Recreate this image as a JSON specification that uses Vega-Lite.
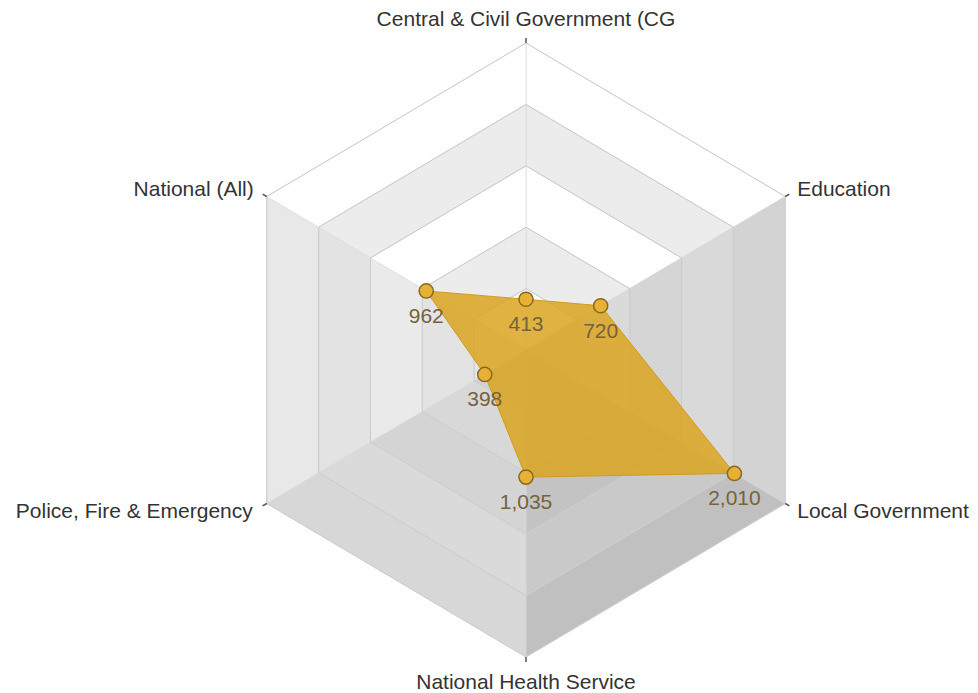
{
  "$schema": "https://vega.github.io/schema/vega-lite/v6.json",
  "width": 978,
  "height": 693,
  "padding": 0,
  "autosize": {"type": "none"},
  "background": "#ffffff",
  "config": {"view": {"stroke": null}, "text": {"font": "Liberation Sans"}},
  "datasets": {
    "sectors": [
      {"axis": "Central & Civil Government (CG", "i": 0, "v": 413},
      {"axis": "Education", "i": 1, "v": 720},
      {"axis": "Local Government", "i": 2, "v": 2010},
      {"axis": "National Health Service", "i": 3, "v": 1035},
      {"axis": "Police, Fire & Emergency", "i": 4, "v": 398},
      {"axis": "National (All)", "i": 5, "v": 962}
    ],
    "faces": [
      {"s": 0, "b": 0, "c": [0, 1, 2, 3]}, {"s": 0, "b": 1, "c": [0, 1, 2, 3]}, {"s": 0, "b": 2, "c": [0, 1, 2, 3]}, {"s": 0, "b": 3, "c": [0, 1, 2, 3]}, {"s": 0, "b": 4, "c": [0, 1, 2, 3]},
      {"s": 1, "b": 0, "c": [0, 1, 2, 3]}, {"s": 1, "b": 1, "c": [0, 1, 2, 3]}, {"s": 1, "b": 2, "c": [0, 1, 2, 3]}, {"s": 1, "b": 3, "c": [0, 1, 2, 3]}, {"s": 1, "b": 4, "c": [0, 1, 2, 3]},
      {"s": 2, "b": 0, "c": [0, 1, 2, 3]}, {"s": 2, "b": 1, "c": [0, 1, 2, 3]}, {"s": 2, "b": 2, "c": [0, 1, 2, 3]}, {"s": 2, "b": 3, "c": [0, 1, 2, 3]}, {"s": 2, "b": 4, "c": [0, 1, 2, 3]},
      {"s": 3, "b": 0, "c": [0, 1, 2, 3]}, {"s": 3, "b": 1, "c": [0, 1, 2, 3]}, {"s": 3, "b": 2, "c": [0, 1, 2, 3]}, {"s": 3, "b": 3, "c": [0, 1, 2, 3]}, {"s": 3, "b": 4, "c": [0, 1, 2, 3]},
      {"s": 4, "b": 0, "c": [0, 1, 2, 3]}, {"s": 4, "b": 1, "c": [0, 1, 2, 3]}, {"s": 4, "b": 2, "c": [0, 1, 2, 3]}, {"s": 4, "b": 3, "c": [0, 1, 2, 3]}, {"s": 4, "b": 4, "c": [0, 1, 2, 3]},
      {"s": 5, "b": 0, "c": [0, 1, 2, 3]}, {"s": 5, "b": 1, "c": [0, 1, 2, 3]}, {"s": 5, "b": 2, "c": [0, 1, 2, 3]}, {"s": 5, "b": 3, "c": [0, 1, 2, 3]}, {"s": 5, "b": 4, "c": [0, 1, 2, 3]}
    ],
    "rings": [
      {"ring": 500, "k": [0, 1, 2, 3, 4, 5]},
      {"ring": 1000, "k": [0, 1, 2, 3, 4, 5]},
      {"ring": 1500, "k": [0, 1, 2, 3, 4, 5]},
      {"ring": 2000, "k": [0, 1, 2, 3, 4, 5]},
      {"ring": 2500, "k": [0, 1, 2, 3, 4, 5]}
    ]
  },
  "layer": [
    {
      "data": {"name": "faces"},
      "transform": [
        {"flatten": ["c"]},
        {"calculate": "datum.s + '-' + datum.b", "as": "key"},
        {"calculate": "(datum.c == 1 || datum.c == 2 ? datum.b + 1 : datum.b) * 500", "as": "rr"},
        {"calculate": "PI / 2 - (datum.s + (datum.c >= 2 ? 1 : 0)) * PI / 3", "as": "ang"},
        {"calculate": "datum.rr * cos(datum.ang)", "as": "px"},
        {"calculate": "datum.rr * sin(datum.ang)", "as": "py"}
      ],
      "mark": {"type": "line", "interpolate": "linear-closed", "stroke": "#d6d6d6", "strokeWidth": 0.6},
      "encoding": {
        "x": {"field": "px", "type": "quantitative", "scale": {"domain": [-4393, 3775], "nice": false, "zero": false}, "axis": null},
        "y": {"field": "py", "type": "quantitative", "scale": {"domain": [-2793.2, 2850.2], "nice": false, "zero": false}, "axis": null},
        "detail": {"field": "key"},
        "order": {"field": "c", "type": "quantitative"},
        "fill": {
          "field": "key", "type": "nominal", "legend": null,
          "scale": {
            "domain": ["0-0","0-1","0-2","0-3","0-4","1-0","1-1","1-2","1-3","1-4","2-0","2-1","2-2","2-3","2-4","3-0","3-1","3-2","3-3","3-4","4-0","4-1","4-2","4-3","4-4","5-0","5-1","5-2","5-3","5-4"],
            "range": ["#fafafa","#ececec","#ffffff","#ececec","#ffffff",
                      "#d6d6d6","#dadada","#d5d5d5","#d9d9d9","#d3d3d3",
                      "#c6c6c6","#cacaca","#c3c3c3","#c9c9c9","#c0c0c0",
                      "#d2d2d2","#d8d8d8","#d4d4d4","#dadada","#d7d7d7",
                      "#e6e6e6","#e3e3e3","#eaeaea","#e3e3e3","#e8e8e8",
                      "#fafafa","#ececec","#ffffff","#ececec","#ffffff"]
          }
        }
      }
    },
    {
      "data": {"name": "rings"},
      "transform": [
        {"flatten": ["k"]},
        {"calculate": "PI / 2 - datum.k * PI / 3", "as": "ang"},
        {"calculate": "datum.ring * cos(datum.ang)", "as": "px"},
        {"calculate": "datum.ring * sin(datum.ang)", "as": "py"}
      ],
      "mark": {"type": "line", "interpolate": "linear-closed", "stroke": "#cbcbcb", "strokeWidth": 1},
      "encoding": {
        "x": {"field": "px", "type": "quantitative"},
        "y": {"field": "py", "type": "quantitative"},
        "detail": {"field": "ring"},
        "order": {"field": "k", "type": "quantitative"}
      }
    },
    {
      "data": {"name": "sectors"},
      "transform": [
        {"calculate": "PI / 2 - datum.i * PI / 3", "as": "ang"},
        {"calculate": "2500 * cos(datum.ang)", "as": "tx"},
        {"calculate": "2500 * sin(datum.ang)", "as": "ty"},
        {"calculate": "2540 * cos(datum.ang)", "as": "tx2"},
        {"calculate": "2540 * sin(datum.ang)", "as": "ty2"}
      ],
      "mark": {"type": "rule", "stroke": "#555555", "strokeWidth": 1.5},
      "encoding": {
        "x": {"field": "tx", "type": "quantitative"},
        "y": {"field": "ty", "type": "quantitative"},
        "x2": {"field": "tx2"},
        "y2": {"field": "ty2"}
      }
    },
    {
      "data": {"name": "sectors"},
      "transform": [
        {"calculate": "PI / 2 - datum.i * PI / 3", "as": "ang"},
        {"calculate": "datum.v * cos(datum.ang)", "as": "px"},
        {"calculate": "datum.v * sin(datum.ang)", "as": "py"}
      ],
      "layer": [
        {
          "mark": {"type": "line", "interpolate": "linear-closed", "fill": "#daa520", "fillOpacity": 0.85, "stroke": "#d19c1c", "strokeWidth": 1},
          "encoding": {
            "x": {"field": "px", "type": "quantitative"},
            "y": {"field": "py", "type": "quantitative"},
            "order": {"field": "i", "type": "quantitative"}
          }
        },
        {
          "mark": {"type": "point", "shape": "circle", "filled": true, "size": 200, "fill": "#e6b134", "stroke": "#8a6a1c", "strokeWidth": 1.5, "opacity": 1},
          "encoding": {
            "x": {"field": "px", "type": "quantitative"},
            "y": {"field": "py", "type": "quantitative"}
          }
        },
        {
          "mark": {"type": "text", "fontSize": 21, "color": "#74633d", "baseline": "middle", "align": "center", "dy": 26},
          "encoding": {
            "x": {"field": "px", "type": "quantitative"},
            "y": {"field": "py", "type": "quantitative"},
            "text": {"field": "v", "type": "quantitative", "format": ","}
          }
        }
      ]
    },
    {
      "data": {"name": "sectors"},
      "transform": [
        {"calculate": "PI / 2 - datum.i * PI / 3", "as": "ang"},
        {"calculate": "2500 * cos(datum.ang)", "as": "px"},
        {"calculate": "2500 * sin(datum.ang)", "as": "py"}
      ],
      "encoding": {
        "x": {"field": "px", "type": "quantitative"},
        "y": {"field": "py", "type": "quantitative"},
        "text": {"field": "axis"}
      },
      "layer": [
        {"transform": [{"filter": "datum.i == 0"}], "mark": {"type": "text", "fontSize": 21, "color": "#333333", "align": "center", "baseline": "middle", "dy": -23}},
        {"transform": [{"filter": "datum.i == 1"}], "mark": {"type": "text", "fontSize": 21, "color": "#333333", "align": "left", "baseline": "middle", "dx": 12, "dy": -7}},
        {"transform": [{"filter": "datum.i == 2"}], "mark": {"type": "text", "fontSize": 21, "color": "#333333", "align": "left", "baseline": "middle", "dx": 12, "dy": 9}},
        {"transform": [{"filter": "datum.i == 3"}], "mark": {"type": "text", "fontSize": 21, "color": "#333333", "align": "center", "baseline": "middle", "dy": 26}},
        {"transform": [{"filter": "datum.i == 4"}], "mark": {"type": "text", "fontSize": 21, "color": "#333333", "align": "right", "baseline": "middle", "dx": -14, "dy": 9}},
        {"transform": [{"filter": "datum.i == 5"}], "mark": {"type": "text", "fontSize": 21, "color": "#333333", "align": "right", "baseline": "middle", "dx": -13, "dy": -7}}
      ]
    }
  ]
}
